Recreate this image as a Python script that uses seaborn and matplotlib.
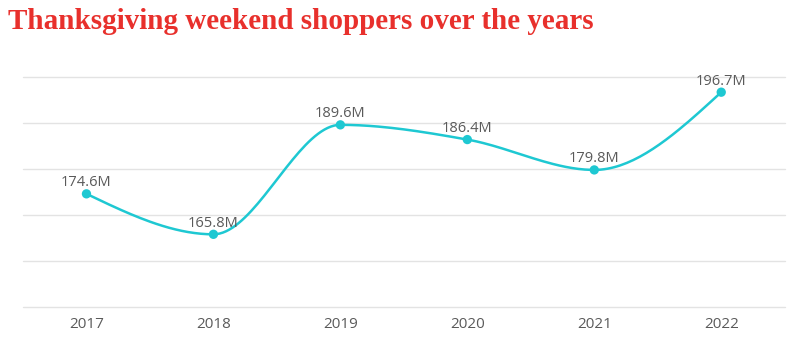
import matplotlib
matplotlib.use("Agg")
import matplotlib.pyplot as plt
import numpy as np
import pandas as pd
import seaborn as sns

years = [2017, 2018, 2019, 2020, 2021, 2022]
shoppers = [174.6, 165.8, 189.6, 186.4, 179.8, 196.7]
labels = ["174.6M", "165.8M", "189.6M", "186.4M", "179.8M", "196.7M"]
title = "Thanksgiving weekend shoppers over the years"

line_color = "#1ec8d2"
text_color = "#5a5a5a"
grid_color = "#e3e3e3"


def monotone_curve(x, y, steps=40):
    # monotone cubic (Fritsch-Carlson style) smoothing for the drawn line only
    x = np.asarray(x, float)
    y = np.asarray(y, float)
    h = np.diff(x)
    s = np.diff(y) / h
    n = len(x)
    t = np.zeros(n)
    for i in range(1, n - 1):
        p = (s[i - 1] * h[i] + s[i] * h[i - 1]) / (h[i - 1] + h[i])
        t[i] = (np.sign(s[i - 1]) + np.sign(s[i])) * min(abs(s[i - 1]), abs(s[i]), 0.5 * abs(p))
    t[0] = (3 * s[0] - t[1]) / 2
    t[-1] = (3 * s[-1] - t[-2]) / 2
    xs, ys = [], []
    for i in range(n - 1):
        u = np.linspace(0, 1, steps, endpoint=(i == n - 2))
        h00 = 2 * u**3 - 3 * u**2 + 1
        h10 = u**3 - 2 * u**2 + u
        h01 = -2 * u**3 + 3 * u**2
        h11 = u**3 - u**2
        xs.append(x[i] + u * h[i])
        ys.append(h00 * y[i] + h10 * h[i] * t[i] + h01 * y[i + 1] + h11 * h[i] * t[i + 1])
    return np.concatenate(xs), np.concatenate(ys)


sns.set_theme(style="white")
plt.rcParams["font.family"] = ["Open Sans", "DejaVu Sans"]

df = pd.DataFrame({"year": years, "shoppers": shoppers})
cx, cy = monotone_curve(years, shoppers)
curve = pd.DataFrame({"year": cx, "shoppers": cy})

fig = plt.figure(figsize=(8.04, 3.51), dpi=100)
ax = fig.add_axes([0.0286, 0.1254, 0.9474, 0.6552])

sns.lineplot(data=curve, x="year", y="shoppers", color=line_color, linewidth=1.8, ax=ax)
sns.scatterplot(data=df, x="year", y="shoppers", color=line_color, s=45, edgecolor="none", ax=ax, zorder=3)

for xv, yv, lab in zip(years, shoppers, labels):
    ax.annotate(lab, (xv, yv), xytext=(0, 2.5), textcoords="offset points",
                ha="center", va="bottom", fontsize=10.5, color=text_color)

ax.set_xlim(2016.5, 2022.5)
ax.set_ylim(150, 200)
ax.set_yticks([150, 160, 170, 180, 190, 200])
ax.set_xticks(years)
ax.set_xticklabels([str(y) for y in years], fontsize=11, color=text_color)
ax.set_yticklabels([])
ax.tick_params(axis="x", length=0, pad=7)
ax.tick_params(axis="y", length=0)
ax.grid(axis="y", color=grid_color, linewidth=1)
ax.grid(axis="x", visible=False)
for sp in ax.spines.values():
    sp.set_visible(False)
ax.set_xlabel("")
ax.set_ylabel("")
for gl in ax.get_ygridlines():
    gl.set_clip_on(False)

fig.text(0.010, 0.978, title, family=["Liberation Serif", "DejaVu Serif"], fontweight="bold",
         fontsize=21, color="#e8302c", ha="left", va="top")

fig.savefig("out.png", dpi=100)
